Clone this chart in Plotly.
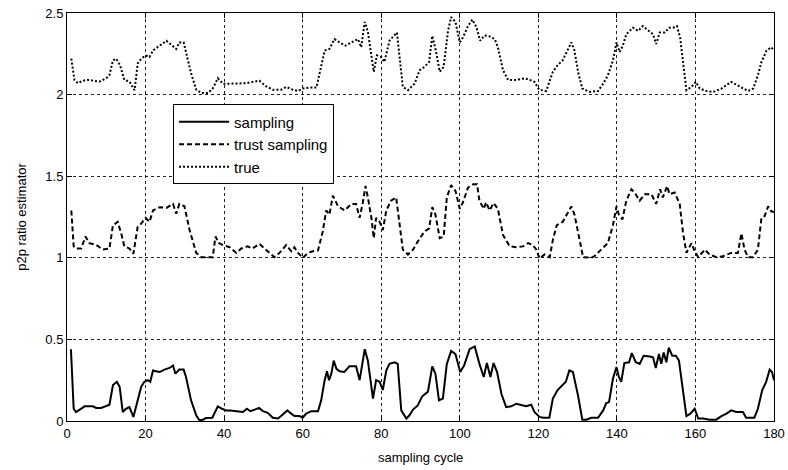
import plotly.graph_objects as go

# ---- data ----
sampling_x = [1.0, 1.7, 2.3, 3.6, 4.5, 6.6, 7.4, 8.7, 10.0, 10.8, 11.7, 12.7, 13.4, 14.2, 15.0, 15.9, 16.9, 17.8,
              18.9, 19.7, 20.6, 21.2, 21.9, 22.7, 23.6, 24.8, 26.1, 27.0, 27.6, 28.6, 29.7, 30.3, 31.6, 32.9, 33.7,
              34.6, 35.4, 37.0, 37.6, 38.4, 39.5, 40.5, 41.5, 42.7, 43.9, 44.8, 45.8, 46.7, 47.8, 48.9, 49.9, 51.1,
              52.4, 53.7, 54.5, 56.1, 57.1, 57.9, 59.2, 60.0, 60.9, 62.2, 63.9, 64.7, 65.6, 66.2, 66.7, 67.3, 67.9,
              68.6, 69.4, 70.6, 71.9, 73.6, 74.5, 75.2, 75.8, 76.6, 77.2, 77.9, 78.7, 79.6, 80.4, 81.3, 82.1, 83.4,
              84.2, 85.1, 86.4, 87.2, 88.1, 89.3, 90.4, 91.9, 93.0, 93.8, 94.7, 95.7, 96.7, 97.8, 98.9, 100.1,
              101.1, 102.5, 103.8, 105.0, 106.1, 106.9, 107.8, 108.6, 109.5, 110.6, 111.8, 113.1, 114.4, 115.7,
              116.9, 118.2, 119.0, 120.3, 121.3, 122.8, 123.7, 124.9, 126.2, 127.0, 127.9, 128.8, 130.1, 131.2,
              132.2, 133.5, 135.2, 136.5, 137.3, 138.0, 139.0, 139.9, 140.5, 141.1, 141.9, 143.1, 143.8, 144.8,
              145.8, 146.8, 148.4, 149.2, 149.9, 150.7, 151.3, 151.9, 152.6, 153.2, 154.1, 155.0, 155.8, 156.7,
              157.7, 158.7, 159.8, 160.7, 162.0, 163.6, 165.3, 166.6, 167.9, 169.1, 170.4, 172.1, 172.9, 175.0,
              175.9, 177.0, 178.0, 178.9, 179.5, 180.0]
sampling_y = [0.44, 0.075, 0.055, 0.075, 0.09, 0.09, 0.08, 0.08, 0.095, 0.10, 0.22, 0.24, 0.21, 0.055, 0.075, 0.085,
              0.025, 0.105, 0.21, 0.24, 0.25, 0.24, 0.31, 0.305, 0.30, 0.315, 0.325, 0.34, 0.29, 0.315, 0.315, 0.27,
              0.125, 0.035, 0.005, 0.008, 0.018, 0.02, 0.055, 0.09, 0.075, 0.065, 0.065, 0.06, 0.055, 0.055, 0.075,
              0.06, 0.07, 0.08, 0.06, 0.05, 0.02, 0.015, 0.03, 0.065, 0.045, 0.03, 0.03, 0.02, 0.045, 0.06, 0.06,
              0.125, 0.25, 0.305, 0.25, 0.29, 0.37, 0.32, 0.305, 0.30, 0.335, 0.335, 0.25, 0.35, 0.44, 0.37, 0.25,
              0.137, 0.25, 0.24, 0.19, 0.31, 0.35, 0.36, 0.35, 0.065, 0.015, 0.035, 0.07, 0.095, 0.15, 0.18, 0.335,
              0.29, 0.127, 0.137, 0.35, 0.43, 0.41, 0.30, 0.34, 0.44, 0.457, 0.35, 0.27, 0.355, 0.27, 0.355, 0.30,
              0.167, 0.085, 0.09, 0.106, 0.096, 0.09, 0.10, 0.055, 0.025, 0.02, 0.02, 0.137, 0.19, 0.22, 0.24, 0.31,
              0.30, 0.157, 0.008, 0.008, 0.02, 0.02, 0.065, 0.11, 0.116, 0.26, 0.33, 0.27, 0.24, 0.355, 0.36, 0.416,
              0.36, 0.35, 0.40, 0.395, 0.39, 0.325, 0.41, 0.35, 0.42, 0.36, 0.45, 0.40, 0.40, 0.37, 0.21, 0.03,
              0.045, 0.075, 0.015, 0.015, 0.008, 0.008, 0.03, 0.045, 0.065, 0.055, 0.055, 0.02, 0.02, 0.075, 0.19,
              0.24, 0.315, 0.30, 0.25]

trust_x = [1.1, 1.7, 2.3, 3.6, 4.7, 5.7, 7.4, 9.1, 10.8, 11.7, 12.9, 13.8, 14.6, 15.9, 16.9, 18.0, 18.9, 20.0, 21.0,
           21.9, 23.6, 25.3, 27.0, 27.8, 28.6, 29.9, 31.2, 32.9, 34.2, 37.1, 37.8, 38.7, 39.7, 41.4, 43.1, 44.4,
           46.0, 47.2, 49.0, 50.3, 51.4, 52.8, 54.1, 55.8, 57.1, 57.9, 58.8, 60.1, 61.3, 62.6, 63.9, 65.1, 66.0,
           66.8, 67.7, 69.0, 70.7, 72.4, 73.6, 74.5, 75.3, 76.0, 76.6, 77.5, 78.1, 78.7, 79.6, 80.4, 81.3, 82.5,
           83.8, 84.7, 85.5, 86.8, 88.1, 89.3, 91.0, 92.2, 93.0, 93.8, 94.9, 95.9, 96.7, 97.8, 98.9, 100.0, 100.8,
           102.1, 103.4, 104.4, 105.0, 106.1, 106.7, 107.6, 108.6, 109.7, 111.0, 112.7, 114.4, 116.1, 117.4,
           118.6, 119.5, 120.3, 121.6, 122.9, 123.7, 124.7, 126.2, 127.0, 128.4, 129.2, 130.5, 131.4, 133.5,
           134.3, 136.0, 137.7, 139.0, 139.9, 140.5, 141.4, 142.4, 143.7, 144.5, 145.8, 147.1, 148.8, 150.0,
           151.0, 151.7, 152.8, 153.4, 154.7, 156.0, 156.8, 157.7, 159.0, 159.8, 160.7, 162.4, 163.6, 165.3,
           167.0, 169.1, 170.8, 171.7, 172.5, 173.4, 174.7, 175.9, 176.8, 177.6, 178.5, 179.3, 180.0]
trust_y = [1.29, 1.07, 1.057, 1.057, 1.13, 1.09, 1.08, 1.05, 1.057, 1.20, 1.22, 1.15, 1.07, 1.057, 1.025, 1.19,
           1.21, 1.245, 1.22, 1.29, 1.31, 1.306, 1.33, 1.27, 1.33, 1.316, 1.17, 1.03, 1.004, 1.004, 1.13, 1.09,
           1.078, 1.065, 1.03, 1.057, 1.07, 1.057, 1.085, 1.057, 1.03, 1.004, 1.03, 1.078, 1.04, 1.065, 1.03,
           1.0, 1.03, 1.04, 1.045, 1.16, 1.29, 1.265, 1.38, 1.316, 1.29, 1.33, 1.33, 1.245, 1.336, 1.44, 1.37,
           1.245, 1.12, 1.245, 1.22, 1.17, 1.29, 1.35, 1.37, 1.18, 1.05, 1.02, 1.05, 1.10, 1.16, 1.18, 1.31,
           1.265, 1.12, 1.13, 1.37, 1.445, 1.41, 1.30, 1.34, 1.43, 1.45, 1.45, 1.35, 1.30, 1.34, 1.29, 1.336,
           1.30, 1.14, 1.07, 1.065, 1.07, 1.09, 1.078, 1.05, 0.996, 1.02, 1.004, 1.11, 1.20, 1.22, 1.255, 1.315,
           1.265, 1.10, 1.004, 1.0, 1.01, 1.05, 1.09, 1.20, 1.315, 1.265, 1.235, 1.35, 1.42, 1.40, 1.35, 1.39,
           1.39, 1.33, 1.42, 1.37, 1.44, 1.39, 1.40, 1.33, 1.16, 1.03, 1.09, 1.04, 1.004, 1.05, 1.02, 1.004,
           1.01, 1.03, 1.03, 1.15, 1.05, 1.004, 1.004, 1.05, 1.245, 1.255, 1.315, 1.285, 1.28]

true_x = [1.1, 1.9, 2.8, 4.0, 5.3, 6.6, 8.3, 10.0, 10.8, 11.7, 12.5, 13.5, 14.6, 15.9, 17.2, 18.0, 18.9, 20.0, 21.0,
          21.9, 23.6, 25.3, 26.5, 27.8, 28.6, 29.7, 30.3, 31.6, 32.9, 34.2, 35.9, 37.1, 38.4, 39.7, 41.4, 43.9,
          45.6, 47.3, 49.0, 50.7, 52.4, 54.5, 55.8, 57.5, 58.8, 60.1, 61.8, 63.5, 64.7, 65.6, 66.8, 68.1, 69.4,
          70.9, 72.4, 74.1, 74.9, 75.8, 76.6, 77.5, 78.1, 78.9, 80.0, 80.8, 82.1, 84.0, 84.8, 85.5, 86.8, 88.5,
          89.8, 91.0, 92.2, 93.0, 93.9, 94.9, 95.9, 97.0, 97.8, 98.9, 100.0, 100.8, 102.1, 103.2, 104.2, 105.2,
          106.3, 107.6, 108.9, 109.7, 111.0, 112.3, 114.4, 116.5, 117.8, 119.0, 120.2, 122.0, 123.7, 124.9,
          126.2, 127.5, 128.4, 129.2, 130.1, 131.2, 133.1, 135.2, 136.5, 137.7, 139.0, 139.9, 140.7, 141.5,
          142.4, 144.1, 145.4, 146.6, 148.3, 149.2, 150.0, 150.9, 152.2, 153.3, 154.3, 155.3, 156.1, 156.8,
          157.7, 159.0, 160.1, 161.1, 162.8, 164.5, 166.6, 169.1, 171.3, 173.4, 174.7, 175.9, 176.8, 178.1,
          179.3, 180.0]
true_y = [2.22, 2.09, 2.07, 2.085, 2.09, 2.085, 2.08, 2.10, 2.12, 2.21, 2.22, 2.18, 2.09, 2.08, 2.027, 2.19, 2.22,
          2.24, 2.23, 2.27, 2.30, 2.33, 2.306, 2.28, 2.32, 2.32, 2.26, 2.13, 2.03, 2.01, 2.01, 2.037, 2.10, 2.067,
          2.067, 2.07, 2.07, 2.078, 2.085, 2.051, 2.03, 2.03, 2.047, 2.03, 2.022, 2.037, 2.043, 2.043, 2.17, 2.27,
          2.28, 2.34, 2.32, 2.30, 2.32, 2.34, 2.29, 2.445, 2.385, 2.23, 2.14, 2.24, 2.23, 2.20, 2.33, 2.38, 2.21,
          2.047, 2.027, 2.067, 2.15, 2.17, 2.20, 2.36, 2.27, 2.14, 2.17, 2.39, 2.475, 2.445, 2.32, 2.35, 2.42, 2.46,
          2.415, 2.33, 2.363, 2.357, 2.34, 2.29, 2.15, 2.09, 2.09, 2.10, 2.09, 2.078, 2.03, 2.022, 2.14, 2.18, 2.21,
          2.28, 2.32, 2.27, 2.14, 2.037, 2.016, 2.022, 2.067, 2.118, 2.21, 2.32, 2.26, 2.30, 2.37, 2.41, 2.39, 2.42,
          2.39, 2.37, 2.31, 2.38, 2.38, 2.41, 2.41, 2.42, 2.35, 2.21, 2.027, 2.047, 2.078, 2.037, 2.022, 2.016,
          2.037, 2.078, 2.047, 2.022, 2.037, 2.118, 2.20, 2.27, 2.29, 2.27]

x_ticks = [0, 20, 40, 60, 80, 100, 120, 140, 160, 180]
y_ticks = [0, 0.5, 1, 1.5, 2, 2.5]
y_tick_labels = ["0", "0.5", "1", "1.5", "2", "2.5"]
x_title = "sampling cycle"
y_title = "p2p ratio estimator"

FONT = "Liberation Sans, Arial, sans-serif"

fig = go.Figure()
fig.add_trace(go.Scatter(x=sampling_x, y=sampling_y, mode="lines", name="sampling",
                         line=dict(color="black", width=2, dash="solid")))
fig.add_trace(go.Scatter(x=trust_x, y=trust_y, mode="lines", name="trust sampling",
                         line=dict(color="black", width=2, dash="5px,3px")))
fig.add_trace(go.Scatter(x=true_x, y=true_y, mode="lines", name="true",
                         line=dict(color="black", width=2, dash="2px,2px")))

axis_common = dict(
    showline=True, linecolor="black", linewidth=1, mirror="ticks",
    ticks="inside", ticklen=5, tickcolor="black",
    showgrid=True, gridcolor="#222222", gridwidth=1, griddash="dot",
    zeroline=False, automargin=False,
    tickfont=dict(family=FONT, size=13, color="black"),
)

fig.update_xaxes(range=[0, 180], tickvals=x_ticks, ticktext=[str(t) for t in x_ticks], **axis_common)
fig.update_yaxes(range=[0, 2.5], tickvals=y_ticks, ticktext=y_tick_labels,
                 title=dict(text=y_title, font=dict(family=FONT, size=13, color="black")),
                 **axis_common)

fig.add_annotation(text=x_title, xref="paper", yref="paper", x=0.5, y=-0.089,
                   xanchor="center", yanchor="middle", showarrow=False,
                   font=dict(family=FONT, size=13, color="black"))

fig.update_layout(
    width=788, height=470,
    margin=dict(l=67, r=14, t=13, b=49),
    paper_bgcolor="white", plot_bgcolor="white",
    showlegend=True,
    legend=dict(x=0.150, y=0.776, xanchor="left", yanchor="top",
                bgcolor="white", bordercolor="black", borderwidth=1,
                font=dict(family=FONT, size=15, color="black"),
                itemwidth=50, tracegroupgap=0),
    font=dict(family=FONT, size=12, color="black"),
)

fig.write_html("out.html")
